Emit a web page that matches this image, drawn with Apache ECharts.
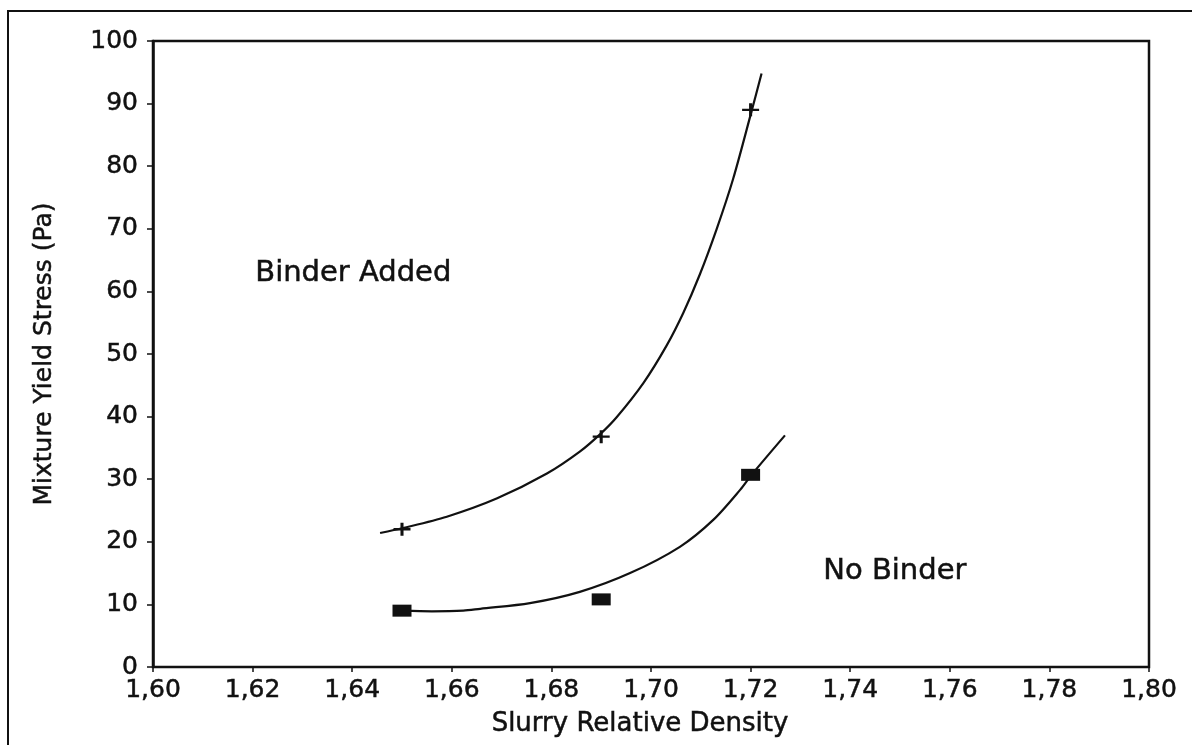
<!DOCTYPE html>
<html>
<head>
<meta charset="utf-8">
<title>Mixture Yield Stress vs Slurry Relative Density</title>
<script src="https://cdn.jsdelivr.net/npm/echarts@6/dist/echarts.min.js"></script>
<style>
  html, body { margin: 0; padding: 0; background: #fff; }
  #chart { width: 1192px; height: 745px; }
</style>
</head>
<body>
<div id="chart"></div>
<script>
// Measured points
const densityPoints = [1.65, 1.69, 1.72];
const binderAdded = [22.0, 36.8, 89.0];
const noBinder = [9.0, 10.8, 30.7];

// Fitted trend curves, traced as [density, stress]
const binderCurve = [
  [1.6456, 21.4], [1.6502, 22.2], [1.6590, 24.0], [1.6690, 26.9],
  [1.6791, 30.9], [1.6857, 34.4], [1.6898, 37.2], [1.6931, 39.9],
  [1.6985, 45.4], [1.7031, 51.3], [1.7065, 56.6], [1.7098, 62.7],
  [1.7132, 70.0], [1.7165, 78.0], [1.7200, 88.2], [1.7222, 94.8]
];
const noBinderCurve = [
  [1.6500, 9.0], [1.6560, 8.9], [1.6623, 9.0], [1.6657, 9.3],
  [1.6757, 10.2], [1.6857, 12.0], [1.6958, 15.0], [1.7058, 19.2],
  [1.7125, 23.5], [1.7179, 28.3], [1.7202, 30.7], [1.7269, 37.0]
];

// Axis tick labels
const xTickLabels = ['1,60', '1,62', '1,64', '1,66', '1,68', '1,70', '1,72', '1,74', '1,76', '1,78', '1,80'];
const yTickLabels = ['0', '10', '20', '30', '40', '50', '60', '70', '80', '90', '100'];

const FONT = 'DejaVu Sans';
const INK = '#111';
// a hairline outline in the text colour gives the lettering a slightly heavier stroke
const heavy = { textBorderColor: INK, textBorderWidth: 0.5 };

const chart = echarts.init(document.getElementById('chart'));

const plusPath = 'path://M0,4.1h10v1.8h-10z M4.1,0h1.8v10h-1.8z';

chart.setOption({
  backgroundColor: '#fff',
  animation: false,
  grid: {
    left: 153, right: 43, top: 41, bottom: 78,
    show: true, borderColor: INK, borderWidth: 2.5, backgroundColor: 'transparent'
  },
  xAxis: {
    type: 'value', min: 1.6, max: 1.8, interval: 0.02,
    name: 'Slurry Relative Density', nameLocation: 'middle', nameGap: 44,
    nameTextStyle: Object.assign({ fontFamily: FONT, fontSize: 26, color: INK, padding: [0, 22, 0, 0] }, heavy),
    axisLine: { show: true, onZero: false, lineStyle: { color: INK, width: 2 } },
    axisTick: { show: true, inside: false, length: 5, lineStyle: { color: INK, width: 1.5 } },
    axisLabel: Object.assign({
      fontFamily: FONT, fontSize: 25, color: INK, margin: 11,
      formatter: v => xTickLabels[Math.round((v - 1.6) / 0.02)]
    }, heavy),
    splitLine: { show: false }
  },
  yAxis: {
    type: 'value', min: 0, max: 100, interval: 10,
    name: 'Mixture Yield Stress (Pa)', nameLocation: 'middle', nameGap: 96, nameRotate: 90,
    nameTextStyle: Object.assign({ fontFamily: FONT, fontSize: 25, color: INK }, heavy),
    axisLine: { show: true, onZero: false, lineStyle: { color: INK, width: 2.5 } },
    axisTick: { show: true, inside: false, length: 6, lineStyle: { color: INK, width: 1.5 } },
    axisLabel: Object.assign({
      fontFamily: FONT, fontSize: 25, color: INK, margin: 15,
      formatter: v => yTickLabels[Math.round(v / 10)]
    }, heavy),
    splitLine: { show: false }
  },
  series: [
    {
      name: 'Binder Added fit', type: 'line', data: binderCurve,
      smooth: 0.3, showSymbol: false, silent: true,
      lineStyle: { color: INK, width: 2.2 }, z: 2
    },
    {
      name: 'No Binder fit', type: 'line', data: noBinderCurve,
      smooth: 0.3, showSymbol: false, silent: true,
      lineStyle: { color: INK, width: 2.2 }, z: 2
    },
    {
      name: 'Binder Added', type: 'scatter',
      data: densityPoints.map((d, i) => [d, binderAdded[i]]),
      symbol: plusPath, symbolSize: [17, 13],
      itemStyle: { color: INK, opacity: 1 }, z: 3
    },
    {
      name: 'No Binder', type: 'scatter',
      data: densityPoints.map((d, i) => [d, noBinder[i]]),
      symbol: 'rect', symbolSize: [19, 12],
      itemStyle: { color: INK, opacity: 1 }, z: 3
    }
  ],
  graphic: [
    {
      type: 'rect', silent: true, z: 0,
      shape: { x: 8, y: 11, width: 1210, height: 760 },
      style: { fill: 'none', stroke: INK, lineWidth: 2 }
    },
    {
      type: 'text', left: 255, top: 259,
      style: Object.assign({ text: 'Binder Added', fontFamily: FONT, fontSize: 29, fill: INK, stroke: INK, lineWidth: 0.5 })
    },
    {
      type: 'text', left: 823, top: 557,
      style: Object.assign({ text: 'No Binder', fontFamily: FONT, fontSize: 29, fill: INK, stroke: INK, lineWidth: 0.5 })
    }
  ]
});
</script>
</body>
</html>
